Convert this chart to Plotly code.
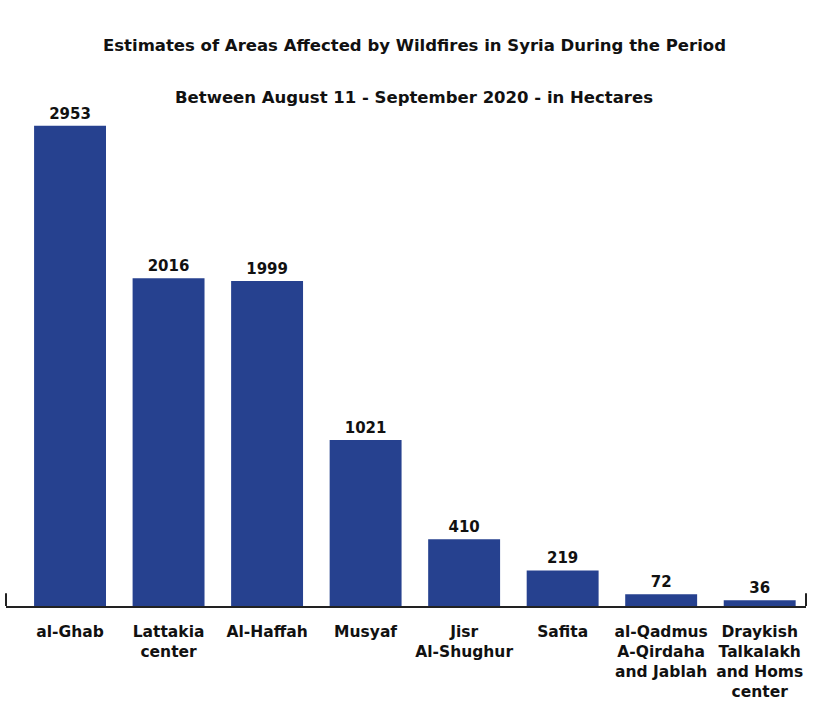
import plotly.graph_objects as go

regions = ["al-Ghab", "Lattakia<br>center", "Al-Haffah", "Musyaf", "Jisr<br>Al-Shughur",
           "Safita", "al-Qadmus<br>A-Qirdaha<br>and Jablah", "Draykish<br>Talkalakh<br>and Homs<br>center"]
hectares = [2953, 2016, 1999, 1021, 410, 219, 72, 36]

title_1 = "Estimates of Areas Affected by Wildfires in Syria During the Period"
title_2 = "Between August 11 - September 2020 - in Hectares"

font_name = "DejaVu Sans"

fig = go.Figure()
fig.add_trace(go.Bar(
    x=list(range(len(regions))), y=hectares,
    marker=dict(color="#26418f", line=dict(width=0)),
    width=0.73,
    text=[str(v) for v in hectares], textposition="outside",
    textfont=dict(family=font_name, size=15, color="#111111", weight="bold"),
    cliponaxis=False,
))

fig.update_layout(
    width=820, height=702,
    margin=dict(l=6, r=14, t=100, b=96),
    plot_bgcolor="white", paper_bgcolor="white",
    showlegend=False,
    font=dict(family=font_name, color="#111111"),
    xaxis=dict(
        range=[-0.65, 7.47],
        tickmode="array", tickvals=list(range(len(regions))), ticktext=regions,
        tickfont=dict(family=font_name, size=15.5, color="#111111", weight="bold"),
        ticklabelstandoff=10,
        showline=True, linecolor="#222222", linewidth=2,
        ticks="", showgrid=False, zeroline=False, automargin=False,
    ),
    yaxis=dict(range=[0, 3112], visible=False, showgrid=False, zeroline=False,
               automargin=False),
)

# end caps on the baseline
for xp in (0, 1):
    fig.add_shape(type="line", xref="paper", yref="paper", x0=xp, x1=xp, y0=0, y1=0.025,
                  line=dict(color="#222222", width=2))

fig.add_annotation(text=title_1, xref="paper", yref="paper", x=0.51, y=1.0, yshift=66,
                   showarrow=False, font=dict(family=font_name, size=16.5, weight="bold"))
fig.add_annotation(text=title_2, xref="paper", yref="paper", x=0.51, y=1.0, yshift=14,
                   showarrow=False, font=dict(family=font_name, size=16.5, weight="bold"))

# page has a default body margin; drop it so the figure sits at the window corner
fig.write_html("out.html", config={"displayModeBar": False},
               post_script="document.body.style.margin='0';")
